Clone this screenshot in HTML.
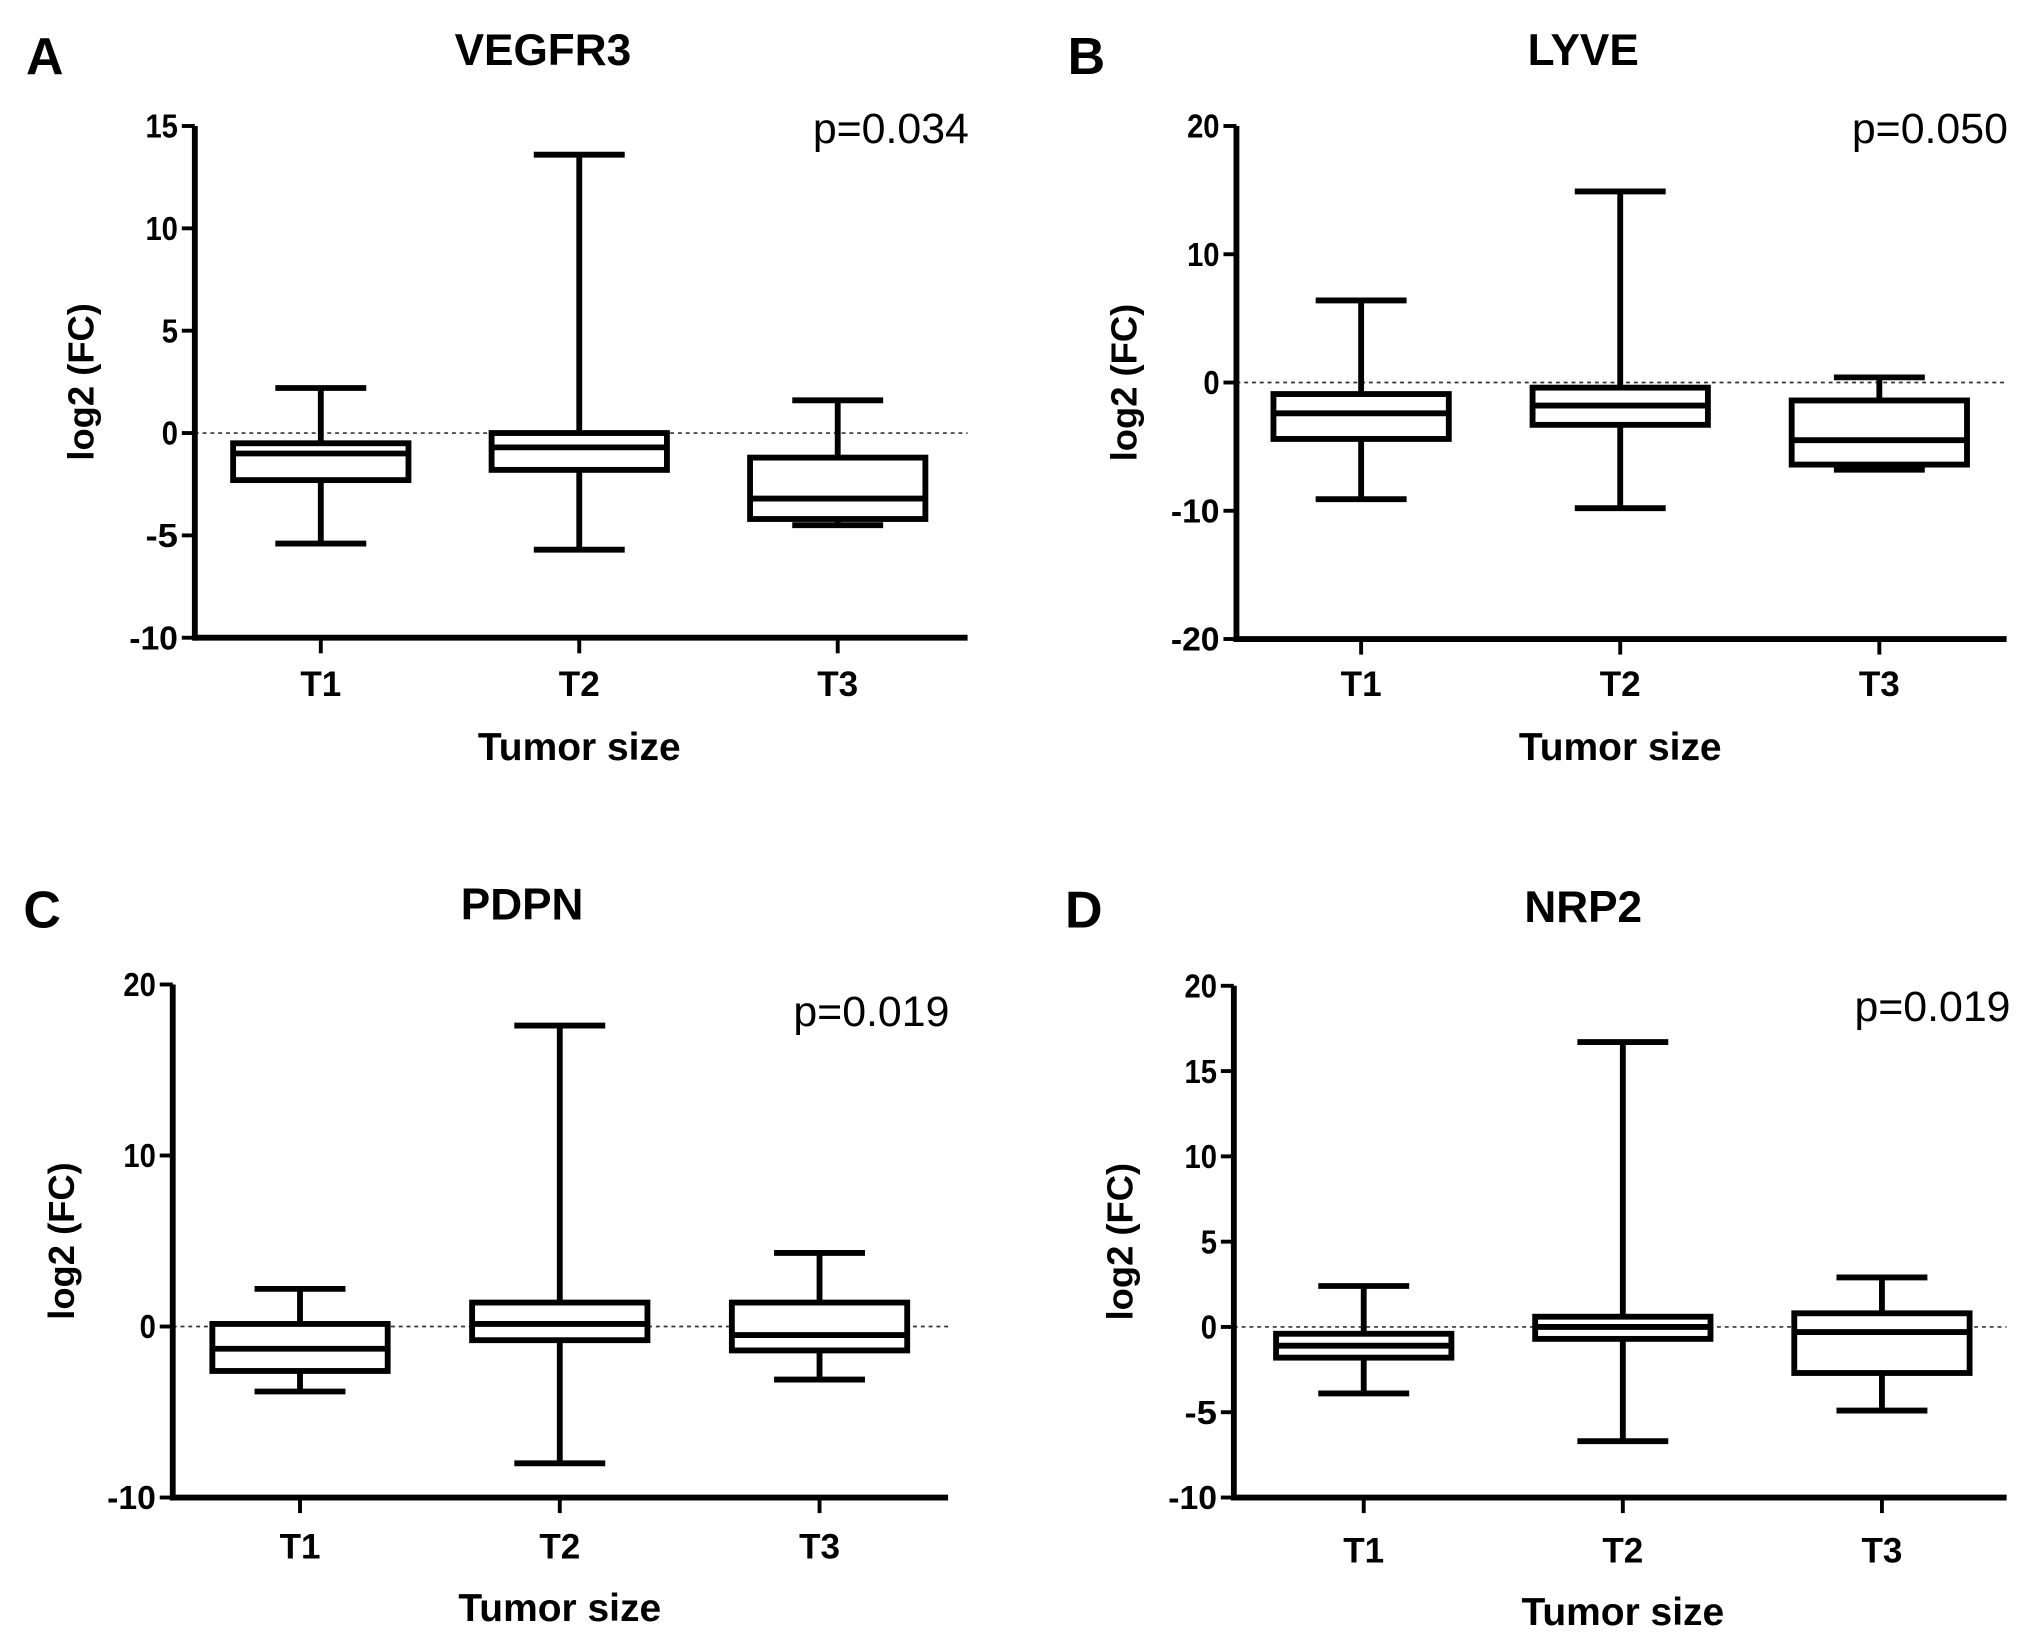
<!DOCTYPE html>
<html><head><meta charset="utf-8"><style>
html,body{margin:0;padding:0;background:#fff;}
svg{display:block;font-family:"Liberation Sans",Arial,sans-serif;}
</style></head><body>
<svg id="fig" width="2030" height="1643" viewBox="0 0 1563 1265" xmlns="http://www.w3.org/2000/svg"></svg>
<script>
const categories = ["T1","T2","T3"];
// [min, q1, median, q3, max] per category
const vegfr3Values = [[-5.4,-2.3,-1.0,-0.5,2.2],[-5.7,-1.8,-0.7,0.0,13.6],[-4.5,-4.2,-3.2,-1.2,1.6]];
const lyveValues   = [[-9.1,-4.4,-2.4,-0.9,6.4],[-9.8,-3.3,-1.8,-0.4,14.9],[-6.8,-6.4,-4.5,-1.4,0.4]];
const pdpnValues   = [[-3.8,-2.6,-1.3,0.15,2.2],[-8.0,-0.8,0.15,1.4,17.6],[-3.1,-1.4,-0.5,1.4,4.3]];
const nrp2Values   = [[-3.9,-1.8,-1.1,-0.4,2.4],[-6.7,-0.7,0.0,0.6,16.7],[-4.9,-2.7,-0.3,0.8,2.9]];
const vegfr3Ticks = [15,10,5,0,-5,-10];
const lyveTicks = [20,10,0,-10,-20];
const pdpnTicks = [20,10,0,-10];
const nrp2Ticks = [20,15,10,5,0,-5,-10];
const pValues = ["p=0.034","p=0.050","p=0.019","p=0.019"];
const titles = ["VEGFR3","LYVE","PDPN","NRP2"];
const letters = ["A","B","C","D"];

const NS="http://www.w3.org/2000/svg";
const svg=document.getElementById('fig');
function mk(tag,attrs,parent,text){const e=document.createElementNS(NS,tag);for(const k in attrs)e.setAttribute(k,attrs[k]);if(text!==undefined)e.textContent=text;parent.appendChild(e);return e;}

const panels=[
 {vals:vegfr3Values,ticks:vegfr3Ticks,x0:150,x1:745,yTop:97,yBot:491,cx0:247,step:199,letterX:20,letterY:57,titleX:418,titleY:50,pX:746,pY:110,ylabX:72,tickY:536,xlabY:585},
 {vals:lyveValues,ticks:lyveTicks,x0:952,x1:1545,yTop:97,yBot:492,cx0:1048,step:199.5,letterX:822,letterY:57,titleX:1219,titleY:50,pX:1546,pY:110,ylabX:875,tickY:536,xlabY:585},
 {vals:pdpnValues,ticks:pdpnTicks,x0:133,x1:730,yTop:758,yBot:1153,cx0:231,step:200,letterX:18,letterY:714,titleX:402,titleY:708,pX:731,pY:790,ylabX:57,tickY:1200,xlabY:1248},
 {vals:nrp2Values,ticks:nrp2Ticks,x0:950,x1:1545,yTop:759,yBot:1153,cx0:1050,step:199.5,letterX:820,letterY:714,titleX:1219,titleY:710,pX:1548,pY:786,ylabX:872,tickY:1203,xlabY:1251}
];
const names=["vegfr3","lyve","pdpn","nrp2"];

panels.forEach((p,pi)=>{
  const g=mk('g',{},svg);
  
  
  const tmax=Math.max(...p.ticks), tmin=Math.min(...p.ticks);
  const y=v=>p.yBot-(v-tmin)/(tmax-tmin)*(p.yBot-p.yTop);
  const x=i=>p.cx0+i*p.step;
  const sw=4.5;
  let e;
  e=mk('text',{x:p.letterX,y:p.letterY,'font-size':40,'font-weight':'bold'},g,letters[pi]);
  
  e=mk('text',{x:p.titleX,y:p.titleY,'font-size':34,'font-weight':'bold','text-anchor':'middle'},g,titles[pi]);
  
  e=mk('text',{x:p.pX,y:p.pY,'font-size':33,'text-anchor':'end'},g,pValues[pi]);
  
  e=mk('line',{x1:p.x0,x2:p.x1,y1:y(0),y2:y(0),stroke:'#333','stroke-width':1.3,'stroke-dasharray':'3,3'},g);
  
  e=mk('line',{x1:p.x0,x2:p.x0,y1:p.yTop,y2:p.yBot+sw/2,stroke:'#000','stroke-width':sw},g);
  
  e=mk('line',{x1:p.x0,x2:p.x1,y1:p.yBot,y2:p.yBot,stroke:'#000','stroke-width':sw},g);
  
  p.ticks.forEach(t=>{
    e=mk('line',{x1:p.x0-10,x2:p.x0,y1:y(t),y2:y(t),stroke:'#000','stroke-width':3},g);
    
    e=mk('text',{x:p.x0-13,y:y(t)+9,'font-size':26,'font-weight':'bold','text-anchor':'end',textLength:String(t).length*12.5,lengthAdjust:'spacingAndGlyphs'},g,String(t));
    
  });
  e=mk('text',{x:p.ylabX,y:(p.yTop+p.yBot)/2,'font-size':28,'font-weight':'bold','text-anchor':'middle',transform:`rotate(-90 ${p.ylabX} ${(p.yTop+p.yBot)/2})`},g,'log2 (FC)');
  
  e=mk('text',{x:x(1),y:p.xlabY,'font-size':30,'font-weight':'bold','text-anchor':'middle'},g,'Tumor size');
  
  categories.forEach((c,i)=>{
    const v=p.vals[i], cx=x(i), bw=135, cw=70;
    e=mk('line',{x1:cx,x2:cx,y1:p.yBot,y2:p.yBot+12,stroke:'#000','stroke-width':3},g);
    
    e=mk('text',{x:cx,y:p.tickY,'font-size':27,'font-weight':'bold','text-anchor':'middle'},g,c);
    
    const bg=mk('g',{stroke:'#000','stroke-width':sw,fill:'none'},g);
    
    
    mk('line',{x1:cx,x2:cx,y1:y(v[4]),y2:y(v[3])},bg);
    mk('line',{x1:cx,x2:cx,y1:y(v[1]),y2:y(v[0])},bg);
    mk('line',{x1:cx-cw/2,x2:cx+cw/2,y1:y(v[4]),y2:y(v[4])},bg);
    mk('line',{x1:cx-cw/2,x2:cx+cw/2,y1:y(v[0]),y2:y(v[0])},bg);
    mk('rect',{x:cx-bw/2,y:y(v[3]),width:bw,height:Math.max(0,y(v[1])-y(v[3])),fill:'#fff'},bg);
    mk('line',{x1:cx-bw/2,x2:cx+bw/2,y1:y(v[2]),y2:y(v[2])},bg);
  });
});
</script>
</body></html>
